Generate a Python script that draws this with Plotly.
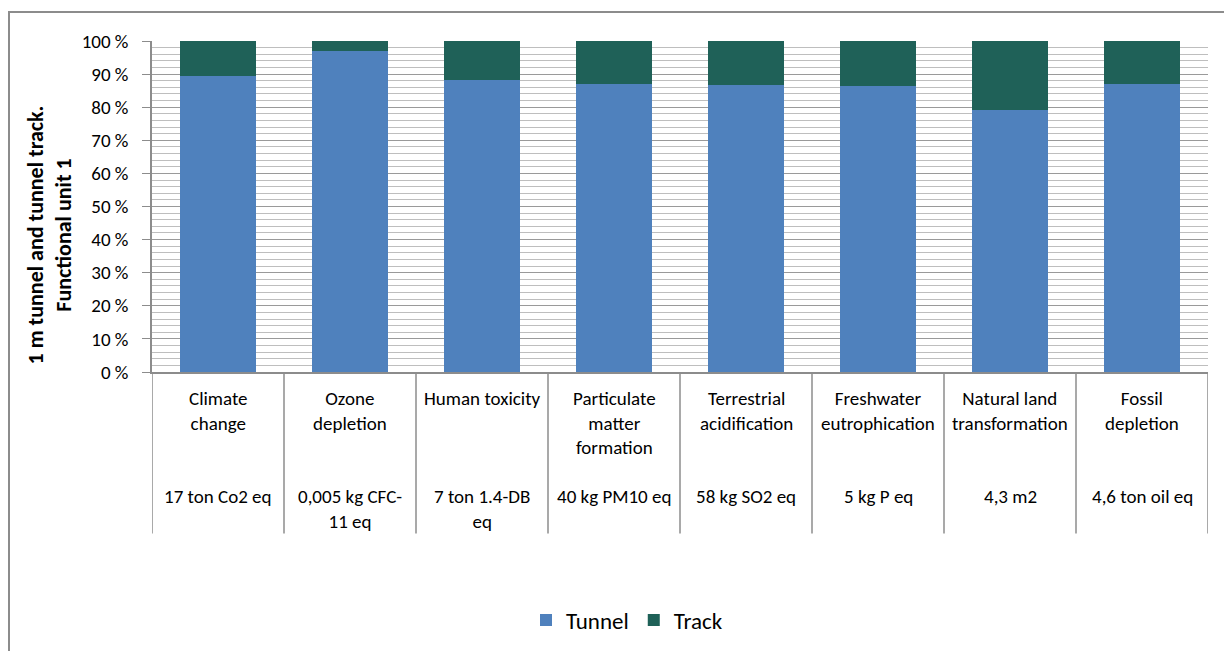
import plotly.graph_objects as go

categories = ["Climate<br>change", "Ozone<br>depletion", "Human toxicity",
              "Particulate<br>matter<br>formation", "Terrestrial<br>acidification",
              "Freshwater<br>eutrophication", "Natural land<br>transformation",
              "Fossil<br>depletion"]
units = ["17 ton Co2 eq", "0,005 kg CFC-<br>11 eq", "7 ton 1.4-DB<br>eq",
         "40 kg PM10 eq", "58 kg SO2 eq", "5 kg P eq", "4,3 m2", "4,6 ton oil eq"]
tunnel = [89.5, 97.0, 88.3, 87.0, 86.7, 86.4, 79.2, 87.0]
track = [10.5, 3.0, 11.7, 13.0, 13.3, 13.6, 20.8, 13.0]
ytick_vals = [0, 10, 20, 30, 40, 50, 60, 70, 80, 90, 100]
ytick_text = [f"{v} %" for v in ytick_vals]

FONT = "Calibri, Carlito, Lato, sans-serif"
W, H = 1224, 651
L, R, T, B = 152, 1208, 41, 373
pw, ph = R - L, B - T


def px_x(x):
    return (x - L) / pw


def px_y(y):
    return (B - y) / ph


xs = list(range(len(categories)))

fig = go.Figure()
fig.add_trace(go.Bar(x=xs, y=tunnel, name="Tunnel", marker_color="#4F81BD",
                     marker_line_width=0))
fig.add_trace(go.Bar(x=xs, y=track, name="Track", marker_color="#1F6158",
                     marker_line_width=0))

shapes = []
# outer chart border
shapes.append(dict(type="rect", xref="paper", yref="paper",
                   x0=px_x(9), x1=px_x(1240), y0=px_y(670), y1=px_y(12),
                   line=dict(color="#8C8C8C", width=2), layer="below"))
# category separators in the axis table
for i in range(len(categories) + 1):
    shapes.append(dict(type="line", xref="x", yref="paper",
                       x0=i - 0.5, x1=i - 0.5, y0=px_y(373), y1=px_y(535),
                       line=dict(color="#8C8C8C", width=1.5)))

annotations = []
for i, (c, u) in enumerate(zip(categories, units)):
    annotations.append(dict(x=i, xref="x", y=px_y(386), yref="paper",
                            text=c, showarrow=False, yanchor="top",
                            font=dict(family=FONT, size=19, color="#000"),
                            align="center"))
    annotations.append(dict(x=i, xref="x", y=px_y(484), yref="paper",
                            text=u, showarrow=False, yanchor="top",
                            font=dict(family=FONT, size=19, color="#000"),
                            align="center"))
annotations.append(dict(x=px_x(50), xref="paper", y=px_y(236), yref="paper",
                        xanchor="center", yanchor="middle",
                        text="<b>1 m tunnel and tunnel track.</b><br><b>Functional unit 1</b>",
                        textangle=-90, showarrow=False,
                        font=dict(family=FONT, size=22, color="#000"),
                        align="center"))

fig.update_layout(
    width=W, height=H, autosize=False,
    margin=dict(l=L, r=W - R, t=T, b=H - B, pad=0),
    barmode="stack", bargap=0.43,
    plot_bgcolor="white", paper_bgcolor="white",
    font=dict(family=FONT, size=19, color="#000"),
    showlegend=True,
    legend=dict(orientation="h", x=px_x(627), xanchor="center",
                y=px_y(620), yanchor="middle", traceorder="normal",
                font=dict(family=FONT, size=23, color="#000"),
                itemwidth=30, tracegroupgap=0),
    shapes=shapes, annotations=annotations,
    xaxis=dict(range=[-0.5, len(categories) - 0.5], showticklabels=False,
               showgrid=False, showline=True, linecolor="#8C8C8C", linewidth=1.5,
               ticks="", zeroline=False, fixedrange=True),
    yaxis=dict(range=[0, 100], tickvals=ytick_vals, ticktext=ytick_text,
               showgrid=True, gridcolor="#9A9A9A", gridwidth=1,
               minor=dict(dtick=2, showgrid=True, gridcolor="#BEBEBE", gridwidth=1),
               showline=True, linecolor="#8C8C8C", linewidth=1.5,
               ticks="outside", ticklen=8, tickcolor="#8C8C8C",
               ticklabelstandoff=10, zeroline=False,
               tickfont=dict(family=FONT, size=19, color="#000")),
)

fig.write_html("out.html", config={"displayModeBar": False},
               post_script="document.body.style.margin='0';document.body.style.padding='0';")
